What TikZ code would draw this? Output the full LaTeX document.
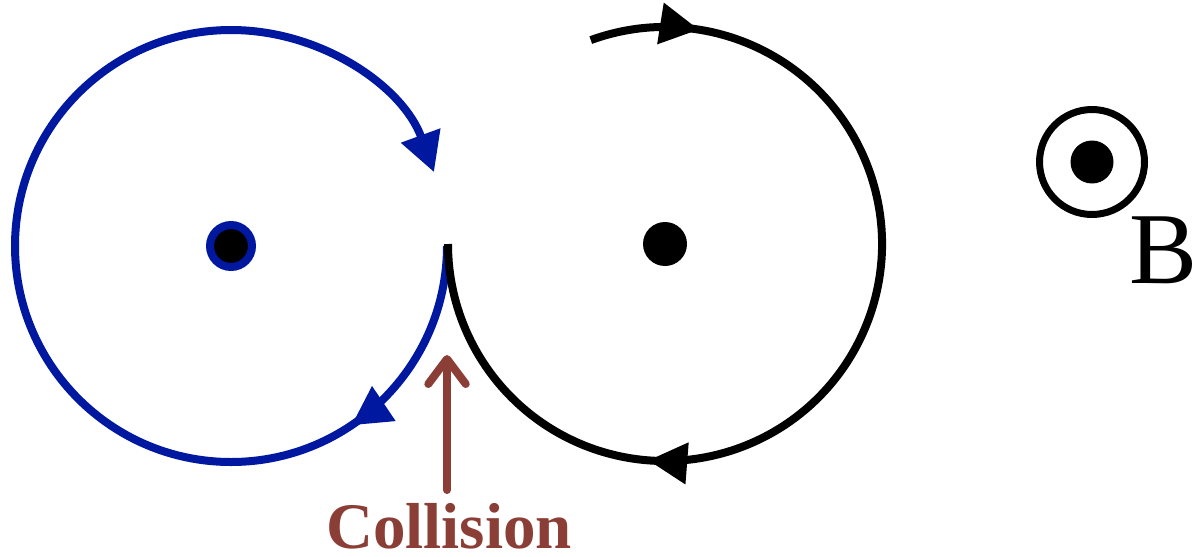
\documentclass[tikz,border=0pt]{standalone}
\usepackage{fontspec}
\usepackage{tikz}
\usetikzlibrary{arrows.meta,decorations.markings}
\usetikzlibrary{positioning}
\newfontfamily\labelfont{Liberation Serif}
\definecolor{orbitblue}{RGB}{0,24,160}
\definecolor{hitbrown}{RGB}{139,62,54}
\tikzset{
  orbit/.style={line width=0.16cm},
  midtip/.style={
    postaction={
      decorate,
      decoration={
        markings,
        mark=at position #1 with {\arrow{Triangle[length=0.78cm, width=0.8cm]}}
      }
    }
  }
}

\begin{document}
\begin{tikzpicture}[x=0.02cm, y=0.02cm]
  \useasboundingbox (0,0) rectangle (1202,556);

  % centres of the two orbits
  \coordinate (lc) at (231,310);
  \coordinate (rc) at (665,312);

  % blue orbit (left)
  \draw[orbit, orbitblue, -{Triangle[length=0.78cm, width=0.8cm]}, midtip=0.165]
    (lc) ++(0:216) arc[start angle=0, end angle=-340, radius=216];
  \node[circle, fill=black, draw=orbitblue, line width=0.16cm, minimum size=0.84cm, inner sep=0pt] (ldot) at (lc) {};

  % black orbit (right)
  \draw[orbit, black, midtip=0.1, midtip=0.705]
    (rc) ++(110:217) arc[start angle=110, end angle=-180, radius=217];
  \node[circle, fill=black, minimum size=0.88cm, inner sep=0pt] (rdot) at (rc) {};

  % collision marker
  \node[anchor=base, text=hitbrown, font=\labelfont\bfseries\fontsize{37}{40}\selectfont, inner sep=0pt] (hit) at (449,8) {Collision};
  \coordinate (hitfoot) at (447,66);
  \coordinate (hitpt) at (447,201);
  \draw[hitbrown, line width=0.16cm, line cap=round, -{Straight Barb[length=0.5cm, width=0.75cm, line cap=round, line join=round]}]
    (hitfoot) -- (hitpt);

  % field out of the page
  \node[circle, draw=black, line width=0.14cm, minimum size=2.1cm, inner sep=0pt] (field) at (1092,394) {};
  \node[circle, fill=black, minimum size=0.86cm, inner sep=0pt] (fdot) at (field) {};
  \node[anchor=base west, font=\labelfont\fontsize{58}{60}\selectfont, inner sep=0pt] (B) at (1129,273) {B};

\end{tikzpicture}
\end{document}
